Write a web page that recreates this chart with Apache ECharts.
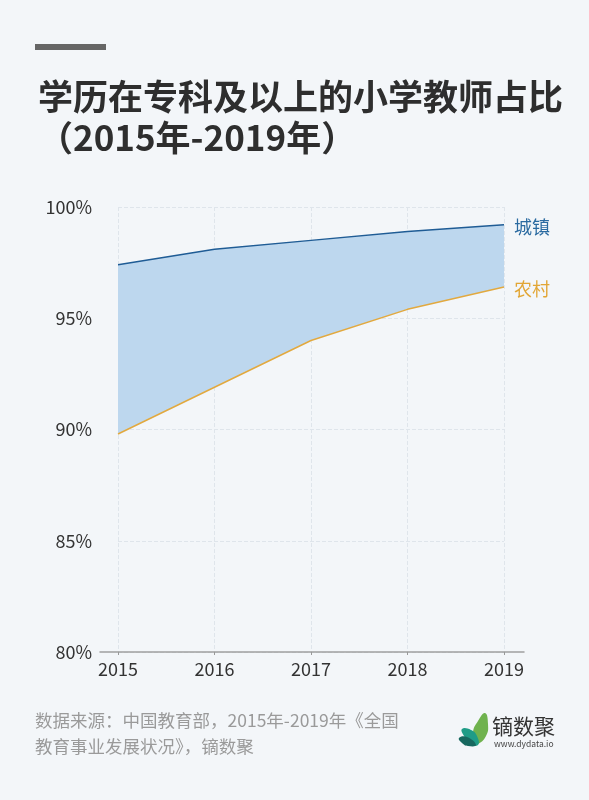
<!DOCTYPE html>
<html><head><meta charset="utf-8">
<script src="https://cdn.jsdelivr.net/npm/echarts@6/dist/echarts.min.js"></script>
<style>html,body{margin:0;padding:0;background:#f3f6f9;}#c{width:589px;height:800px;}</style>
</head><body><div id="c"></div>
<script>
const years = ['2015','2016','2017','2018','2019'];
const urban = [97.4, 98.1, 98.5, 98.9, 99.2];
const rural = [89.8, 91.9, 94.0, 95.4, 96.4];
const yTicks = {min: 80, max: 100, interval: 5};
const gap = urban.map((v, i) => +(v - rural[i]).toFixed(2));
const FONT = '"Noto Sans CJK SC","Noto Sans",sans-serif';

const chart = echarts.init(document.getElementById('c'), null, {renderer: 'canvas'});
chart.setOption({
  backgroundColor: '#f3f6f9',
  animation: false,
  textStyle: {fontFamily: FONT},
  title: {
    text: '学历在专科及以上的小学教师占比\n（2015年-2019年）',
    left: 33, top: 71,
    textStyle: {fontSize: 35, fontWeight: 'bold', color: '#2e2e2e', lineHeight: 41, fontFamily: FONT}
  },
  grid: [
    {left: 118, right: 85, top: 207, bottom: 148},
    {left: 100, right: 65, top: 207, bottom: 148}
  ],
  xAxis: [
    {type: 'category', data: years, boundaryGap: false, gridIndex: 0,
     axisLine: {show: false},
     axisTick: {show: true, length: 3, lineStyle: {color: '#999'}},
     axisLabel: {color: '#333', fontSize: 18, margin: 8},
     splitLine: {show: true, lineStyle: {color: '#dfe5eb', type: 'dashed', width: 1}}},
    {type: 'value', gridIndex: 1, min: 0, max: 1,
     axisLine: {show: true, lineStyle: {color: '#a0a0a0', width: 1.5}},
     axisTick: {show: false}, axisLabel: {show: false}, splitLine: {show: false}}
  ],
  yAxis: [
    {type: 'value', gridIndex: 0, min: yTicks.min, max: yTicks.max, interval: yTicks.interval,
     axisLine: {show: false}, axisTick: {show: false},
     axisLabel: {formatter: '{value}%', color: '#333', fontSize: 18, margin: 26},
     splitLine: {show: true, lineStyle: {color: '#dfe5eb', type: 'dashed', width: 1}}},
    {type: 'value', gridIndex: 1, min: 0, max: 1, show: false}
  ],
  series: [
    {name: '农村', type: 'line', stack: 'band', data: rural, xAxisIndex: 0, yAxisIndex: 0,
     symbol: 'none', z: 4,
     lineStyle: {color: '#e2a93f', width: 1.5},
     endLabel: {show: true, formatter: '农村', color: '#e2a635', fontSize: 18, distance: 10, offset: [0, 2]}},
    {name: '城镇', type: 'line', stack: 'band', data: gap, xAxisIndex: 0, yAxisIndex: 0,
     symbol: 'none', z: 3,
     lineStyle: {color: '#1f5c95', width: 1.5},
     areaStyle: {color: '#bdd7ee', opacity: 1},
     endLabel: {show: true, formatter: '城镇', color: '#2a6aa0', fontSize: 18, distance: 10, offset: [0, 2]}}
  ],
  graphic: [
    {type: 'rect', x: 35, y: 44, shape: {x: 0, y: 0, width: 71, height: 6}, style: {fill: '#666'}},
    {type: 'text', x: 35, y: 707, style: {text: '数据来源：中国教育部，2015年-2019年《全国\n教育事业发展状况》，镝数聚',
      fill: '#9a9a9a', fontSize: 17.5, lineHeight: 26, fontFamily: FONT}},
    {type: 'polygon', x: 459, y: 713, shape: {smooth: 0.5, points: [[15,32],[14,19],[19,8],[26,0],[29,11],[27,23],[18,32]]}, style: {fill: '#6fb24e'}},
    {type: 'polygon', x: 459, y: 713, shape: {smooth: 0.5, points: [[3,16],[12,17],[18,23],[19,32],[11,30],[5,23]]}, style: {fill: '#1f9c87'}},
    {type: 'polygon', x: 459, y: 713, shape: {smooth: 0.5, points: [[0,25],[8,24],[17,32],[9,33],[3,30]]}, style: {fill: '#17685f'}},
    {type: 'text', x: 492, y: 716, style: {text: '镝数聚', fill: '#333', fontSize: 21, fontFamily: FONT}},
    {type: 'text', x: 494, y: 740, style: {text: 'www.dydata.io', fill: '#444', fontSize: 8.5, fontFamily: FONT}}
  ]
});
</script></body></html>
